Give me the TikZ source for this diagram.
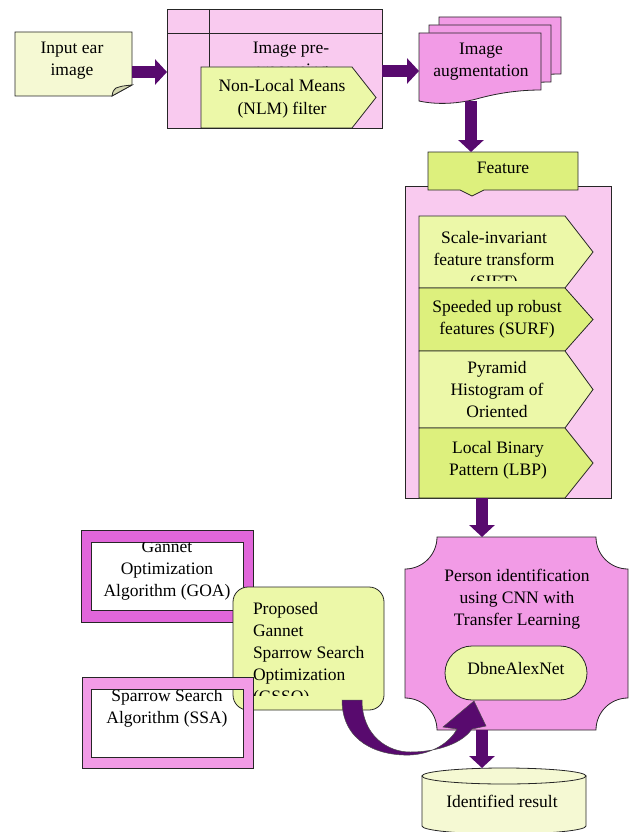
\documentclass[tikz,border=0pt]{standalone}
\usepackage{fontspec}
\setmainfont{Liberation Serif}
\usetikzlibrary{arrows.meta,calc}
\definecolor{pyel}{RGB}{245,249,211}
\definecolor{fold}{RGB}{214,217,178}
\definecolor{lgreen}{RGB}{236,248,168}
\definecolor{dgreen}{RGB}{221,240,125}
\definecolor{lpink}{RGB}{249,202,239}
\definecolor{mpink}{RGB}{242,155,230}
\definecolor{magen}{RGB}{225,102,218}
\definecolor{arrowc}{RGB}{88,10,110}
\newcommand\mlines[5]{%
  \foreach \mytext [count=\k] in {#5} {\node[lbl, anchor=#2] (#1\k) at (#3,{#4+22*(\k-1)}) {\mytext};}}
\begin{document}
\begin{tikzpicture}[x=1pt,y=-1pt,
  shp/.style={draw=black!85, line width=0.8pt},
  lbl/.style={font=\fontsize{17.5}{22}\selectfont, inner sep=0pt, outer sep=0pt},
  box/.style 2 args={inner sep=0pt, outer sep=0pt, minimum width=#1, minimum height=#2},
  bigarrow/.style={draw=arrowc, line width=12pt, -{Triangle[width=25pt,length=12pt]}},
]
\useasboundingbox (0,0) rectangle (632,832);

% ---------- Image pre-processing ----------
\node[shp, fill=lpink, box={215pt}{119pt}] (pre) at (274.5,68.5) {};
\draw[shp] (167,33) -- (382,33);
\draw[shp] (209,9) -- (209,128);
\node[lbl, anchor=base] (pp1) at (291,54) {Image pre-};
\begin{scope}
\clip (209,33) rectangle (382,67);
\node[lbl, anchor=base] (pp2) at (291,75.5) {processing};
\end{scope}
\filldraw[shp, fill=lgreen] (201,67) -- (352,67) -- (376,97.5) -- (352,128) -- (201,128) -- cycle;
\mlines{nlm}{base}{282}{92}{Non-Local Means,(NLM) filter}

% ---------- Input ear image ----------
\filldraw[shp, fill=pyel] (15,32) -- (132,32) -- (132,85) -- (112,96) -- (15,96) -- cycle;
\filldraw[shp, fill=fold] (112,96) .. controls (113,91) .. (116,88) .. controls (122,86) .. (132,85) -- cycle;
\node[box={117pt}{64pt}] (input) at (73.5,64) {};
\mlines{in}{base}{72}{54}{Input ear,image}

% ---------- Image augmentation ----------
\begin{scope}[shift={(439,17)}]
\filldraw[shp, fill=mpink] (0,0) -- (122,0) -- (122,57) .. controls (100,57) and (80,60) .. (61,65) .. controls (40,71) and (18,72) .. (0,68) -- cycle;
\end{scope}
\begin{scope}[shift={(429,25)}]
\filldraw[shp, fill=mpink] (0,0) -- (122,0) -- (122,57) .. controls (100,57) and (80,60) .. (61,65) .. controls (40,71) and (18,72) .. (0,68) -- cycle;
\end{scope}
\begin{scope}[shift={(419,33)}]
\filldraw[shp, fill=mpink] (0,0) -- (122,0) -- (122,57) .. controls (100,57) and (80,60) .. (61,65) .. controls (40,71) and (18,72) .. (0,68) -- cycle;
\end{scope}
\node[box={122pt}{68pt}] (aug) at (480,67) {};
\mlines{ag}{base}{481}{55}{Image,augmentation}

% ---------- Feature extraction ----------
\node[shp, fill=lpink, box={206pt}{312pt}] (feat) at (508,342) {};
\filldraw[shp, fill=lgreen] (419,216) -- (565,216) -- (593,252) -- (565,288) -- (419,288) -- cycle;
\begin{scope}
\clip (419,216) rectangle (593,280);
\mlines{sift}{base}{494}{243}{Scale-invariant,feature transform,(SIFT)}
\end{scope}
\filldraw[shp, fill=dgreen] (419,288) -- (565,288) -- (593,319.5) -- (565,351) -- (419,351) -- cycle;
\mlines{surf}{base}{497}{312}{Speeded up robust,features (SURF)}
\filldraw[shp, fill=lgreen] (419,351) -- (565,351) -- (593,389.5) -- (565,428) -- (419,428) -- cycle;
\mlines{phog}{base}{497}{373}{Pyramid,Histogram of,Oriented}
\filldraw[shp, fill=dgreen] (419,428) -- (565,428) -- (593,463) -- (565,498) -- (419,498) -- cycle;
\mlines{lbp}{base}{498}{453}{Local Binary,Pattern (LBP)}

\filldraw[shp, fill=dgreen] (428,152) -- (578,152) -- (578,190) -- (484,190) -- (472,196) -- (460,190) -- (428,190) -- cycle;
\node[box={150pt}{38pt}] (feature) at (503,171) {};
\mlines{ft}{base}{503}{173}{Feature}

% ---------- Person identification ----------
\filldraw[shp, fill=mpink] (437,537) -- (596,537) arc[start angle=180,end angle=90,radius=32]
  -- (628,698) arc[start angle=270,end angle=180,radius=32]
  -- (437,730) arc[start angle=0,end angle=-90,radius=32]
  -- (405,569) arc[start angle=90,end angle=0,radius=32] -- cycle;
\node[box={223pt}{193pt}] (person) at (516.5,633.5) {};
\mlines{pi}{base}{517}{581}{Person identification,using CNN with,Transfer Learning}
\node[shp, fill=lgreen, rounded corners=27pt, box={142pt}{54pt}] (dbne) at (516,673) {};
\mlines{db}{base}{516}{674}{DbneAlexNet}

% ---------- Identified result ----------
\filldraw[shp, fill=pyel] (422,776) -- (422,826) arc[start angle=180,end angle=0,x radius=82,y radius=8] -- (586,776) -- cycle;
\filldraw[shp, fill=pyel] (504,776) ellipse [x radius=82, y radius=8];
\node[box={164pt}{64pt}] (result) at (504,800) {};
\mlines{res}{base}{502}{807}{Identified result}

% ---------- Optimisation boxes ----------
\node[shp, fill=magen, box={172pt}{92pt}] (goa) at (167,576) {};
\filldraw[shp, fill=white] (91,542) rectangle (243,610);
\begin{scope}
\clip (91,542.5) rectangle (243,610);
\mlines{goat}{base}{167}{552}{Gannet,Optimization,Algorithm (GOA)}
\end{scope}

\node[shp, fill=mpink, box={171pt}{91pt}] (ssa) at (167.5,722.5) {};
\filldraw[shp, fill=white] (91,689) rectangle (243,757);
\begin{scope}
\clip (91,689.5) rectangle (243,757);
\mlines{ssat}{base}{167}{701}{Sparrow Search,Algorithm (SSA)}
\end{scope}

\node[shp, fill=lgreen, rounded corners=15pt, box={151pt}{123pt}] (gsso) at (308.5,648.5) {};
\begin{scope}
\clip (233,587) rectangle (384,695);
\mlines{gs}{base west}{253}{614}{Proposed,Gannet,Sparrow Search,Optimization,(GSSO)}
\end{scope}
\filldraw[shp, fill=mpink, even odd rule] (82,677) rectangle (253,768) (91,689) rectangle (243,757);

% ---------- Connectors ----------
\coordinate (a1) at ([yshift=-8pt]input.east);
\draw[bigarrow] (a1) -- (a1 -| pre.west);
\coordinate (a2) at ([yshift=-2.5pt]pre.east);
\draw[bigarrow] (a2) -- (a2 -| aug.west);
\coordinate (a3) at (aug.south -| 471,0);
\draw[bigarrow] (a3) -- (a3 |- feature.north);
\coordinate (a4) at (feat.south -| 482,0);
\draw[bigarrow] (a4) -- (a4 |- person.north);
\coordinate (a5) at (person.south -| 482,0);
\draw[bigarrow] (a5) -- (a5 |- result.north);

\filldraw[draw=black!70, line width=0.5pt, fill=arrowc] (342,700) .. controls (342,742) and (378,756) .. (410,755)
  .. controls (433,754) and (450,742) .. (457,729) -- (443,727) -- (474,701) -- (486,726) -- (472,729)
  .. controls (460,746) and (432,752) .. (410,752) .. controls (388,752) and (362,736) .. (362,700) -- cycle;
\end{tikzpicture}
\end{document}
